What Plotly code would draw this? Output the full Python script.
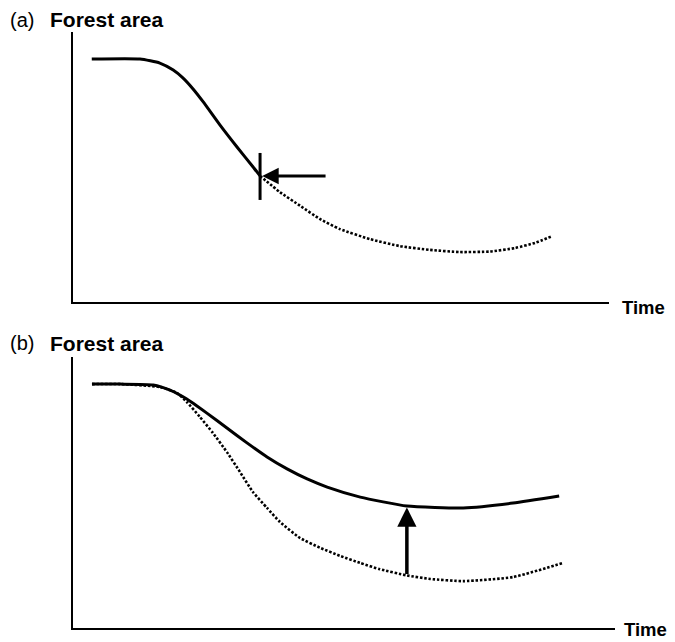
import plotly.graph_objects as go

# ---- Data (arbitrary units: time 0-100, forest area 0-100) ----
# Panel (a): observed deforestation, then projected (dotted) path
a_obs_time = [3.5, 12.5, 16.2, 18.7, 20.5, 22.4, 24.3, 27.4, 30.6, 33.6, 34.9]
a_obs_area = [90.0, 90.0, 88.5, 85.9, 83.0, 78.9, 74.1, 65.6, 57.4, 50.0, 46.7]
a_proj_time = [34.9, 38.6, 42.4, 46.1, 49.8, 55.4, 61.0, 66.6, 72.2, 77.8, 82.5, 86.2, 89.4]
a_proj_area = [46.7, 40.7, 35.6, 30.7, 27.0, 23.3, 20.7, 19.3, 18.5, 18.7, 20.0, 21.9, 24.4]
a_marker_time = 34.9
a_marker_span = [37.8, 55.2]
a_arrow_tail_time = 47.4

# Panel (b): with policy (solid) vs. baseline (dotted)
b_policy_time = [3.5, 8.7, 14.8, 17.9, 21.0, 24.7, 28.4, 32.1, 35.8, 39.5, 43.2, 46.9,
                 53.0, 61.6, 72.0, 81.2, 89.7]
b_policy_area = [90.0, 90.0, 89.7, 87.8, 84.5, 79.3, 73.8, 68.3, 63.1, 58.7, 55.0, 52.0,
                 48.3, 45.0, 44.3, 46.1, 48.7]
b_base_time = [3.5, 8.7, 16.1, 19.2, 21.0, 23.4, 25.8, 28.4, 30.8, 33.2, 35.8, 38.2, 41.9,
               45.6, 49.3, 53.0, 56.6, 61.6, 65.9, 72.0, 81.2, 90.4]
b_base_area = [90.0, 90.0, 88.9, 86.7, 83.4, 77.9, 72.0, 64.9, 57.6, 50.2, 44.3, 39.1, 33.2,
               29.6, 26.6, 24.0, 21.7, 19.4, 18.1, 17.3, 18.8, 24.0]
b_arrow_time = 61.6

# page body has an 8px margin: figure placed at (8, 8)
OFF = 8
W, H = 675 - OFF, 642 - OFF
FONT = "Liberation Sans, Arial, sans-serif"

fig = go.Figure()

line_solid = dict(color="black", width=3, shape="spline", smoothing=0.5)
line_dot = dict(color="black", width=2.6, shape="spline", smoothing=0.5, dash="2.5px,1.8px")

fig.add_trace(go.Scatter(x=a_obs_time, y=a_obs_area, mode="lines", line=line_solid,
                         xaxis="x", yaxis="y", showlegend=False))
fig.add_trace(go.Scatter(x=a_proj_time, y=a_proj_area, mode="lines", line=line_dot,
                         xaxis="x", yaxis="y", showlegend=False))
fig.add_trace(go.Scatter(x=b_base_time, y=b_base_area, mode="lines", line=line_dot,
                         xaxis="x2", yaxis="y2", showlegend=False))
fig.add_trace(go.Scatter(x=b_policy_time, y=b_policy_area, mode="lines", line=line_solid,
                         xaxis="x2", yaxis="y2", showlegend=False))


def interp(xs, ys, x):
    for i in range(len(xs) - 1):
        if xs[i] <= x <= xs[i + 1]:
            t = (x - xs[i]) / (xs[i + 1] - xs[i])
            return ys[i] + t * (ys[i + 1] - ys[i])
    return ys[-1]


# Marker line in (a)
fig.add_shape(type="line", xref="x", yref="y", x0=a_marker_time, x1=a_marker_time,
              y0=a_marker_span[0], y1=a_marker_span[1], line=dict(color="black", width=3))

a_pt = interp(a_obs_time, a_obs_area, a_marker_time)
annotations = [
    dict(x=a_marker_time + 0.4, y=a_pt, ax=a_arrow_tail_time, ay=a_pt, xref="x", yref="y",
         axref="x", ayref="y", showarrow=True, arrowhead=2, arrowsize=1.1, arrowwidth=3,
         arrowcolor="black", text=""),
    dict(x=b_arrow_time, y=interp(b_policy_time, b_policy_area, b_arrow_time) - 0.5,
         ax=b_arrow_time, ay=interp(b_base_time, b_base_area, b_arrow_time),
         xref="x2", yref="y2", axref="x2", ayref="y2", showarrow=True, arrowhead=2,
         arrowsize=1.1, arrowwidth=3.5, arrowcolor="black", text=""),
]


def txt(s, px, py, size, bold=False, yanchor="middle"):
    return dict(text=("<b>%s</b>" % s) if bold else s, x=max(px - OFF, 0) / W,
                y=1 - (py - OFF) / H, xref="paper", yref="paper", xanchor="left",
                yanchor=yanchor, showarrow=False,
                font=dict(family=FONT, size=size, color="black"))


annotations += [
    txt("(a)", 8, 20, 20),
    txt("Forest area", 48, 20, 21, True),
    txt("Time", 620, 308, 18.5, True),
    txt("(b)", 8, 343, 20),
    txt("Forest area", 48, 343, 21, True),
    txt("Time", 622, 642, 18.5, True, yanchor="bottom"),
]

axis_common = dict(range=[0, 100], showgrid=False, zeroline=False, showticklabels=False,
                   ticks="", showline=True, linecolor="black", linewidth=2, fixedrange=True)


def xd(p0, p1):
    return [(p0 - OFF) / W, (p1 - OFF) / W]


def yd(top, bottom):
    return [1 - (bottom - OFF) / H, 1 - (top - OFF) / H]


fig.update_layout(
    width=W, height=H,
    margin=dict(l=0, r=0, t=0, b=0),
    paper_bgcolor="white", plot_bgcolor="white",
    xaxis=dict(domain=xd(73, 609), anchor="y", **axis_common),
    yaxis=dict(domain=yd(32, 302), anchor="x", **axis_common),
    xaxis2=dict(domain=xd(73, 615), anchor="y2", **axis_common),
    yaxis2=dict(domain=yd(357, 628), anchor="x2", **axis_common),
    annotations=annotations,
    showlegend=False,
)

fig.write_html("out.html")
